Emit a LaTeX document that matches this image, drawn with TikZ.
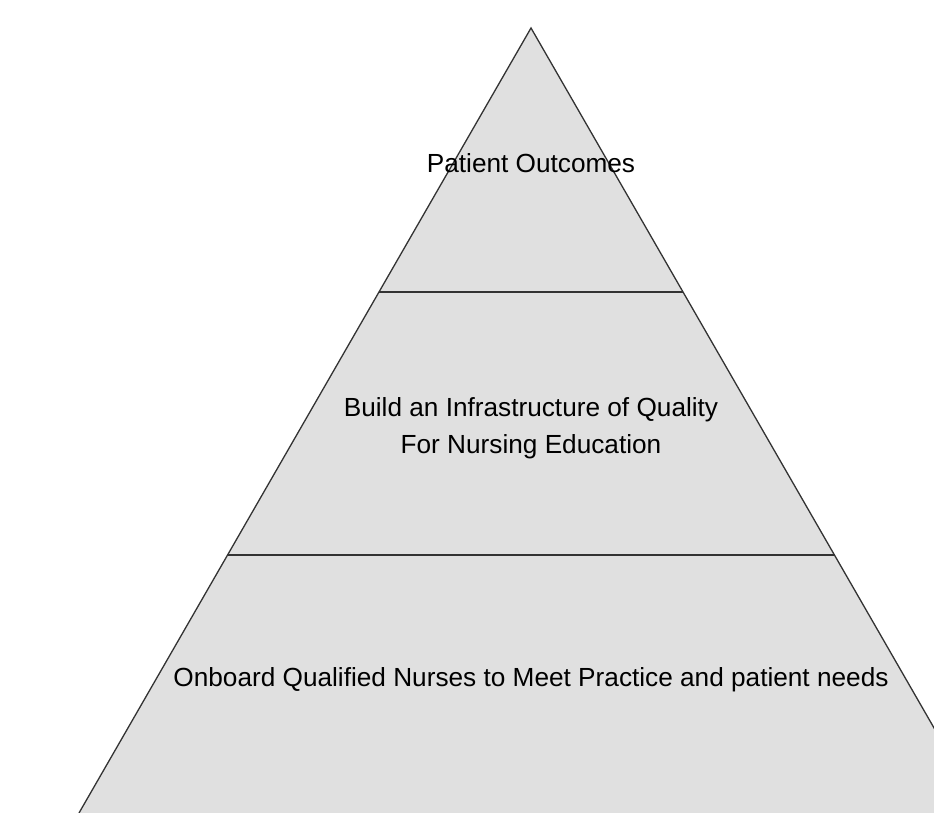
\documentclass[tikz,border=0pt]{standalone}
\usepackage{fontspec}
\setmainfont{Liberation Sans}
\begin{document}
\begin{tikzpicture}[x=1pt,y=-1pt,
  tier/.style={fill=black!12},
  divider/.style={draw=black!80,line width=1.3pt},
  lbl/.style={font=\fontsize{26.2}{37}\selectfont,align=center,inner sep=0pt}]
\useasboundingbox (0,0) rectangle (934,813);
\clip (0,0) rectangle (934,813);
\coordinate (apex) at (531,28);
\coordinate (bl) at (79,813);
\coordinate (br) at (983,813);
\coordinate (l1) at (379,292);
\coordinate (r1) at (683,292);
\coordinate (l2) at (227.5,555);
\coordinate (r2) at (834.5,555);
\fill[tier] (bl) -- (apex) -- (br) -- cycle;
\draw[divider] (bl) -- (apex) -- (br);
\draw[divider] (l1) -- (r1);
\draw[divider] (l2) -- (r2);
\node[lbl] (t1) at (531,163) {Patient Outcomes};
\node[lbl] (t2) at (531,428) {Build an Infrastructure of Quality\\For Nursing Education};
\node[lbl] (t3) at (531,680) {Onboard Qualified Nurses to Meet Practice and patient needs};
\end{tikzpicture}
\end{document}
